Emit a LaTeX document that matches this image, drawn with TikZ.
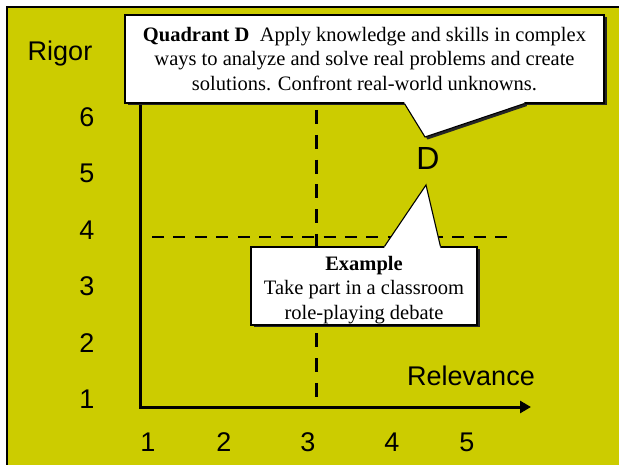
\documentclass[tikz,border=0pt]{standalone}
\usepackage{fontspec}
\setmainfont{Liberation Serif}
\setsansfont{Liberation Sans}
\usetikzlibrary{arrows.meta,positioning,shadows,calc}
\definecolor{rigyellow}{HTML}{CCCC00}

\begin{document}
\begin{tikzpicture}[x=1pt,y=-1pt,
  axlab/.style={font=\sffamily\fontsize{27}{30}\selectfont,inner sep=0pt},
  axisline/.style={line width=3pt,-{Triangle[length=11pt,width=12pt]}},
  divv/.style={line width=3pt,dash pattern=on 14pt off 10.8pt},
  divh/.style={line width=2pt,dash pattern=on 12pt off 9.44pt},
  boxshadow/.style={drop shadow={shadow xshift=2.5pt,shadow yshift=-2.5pt,
                    opacity=1,fill=black!85}},
  callbox/.style={draw=black,fill=white,line width=1.1pt,align=center,
                  font=\fontsize{20.5}{24.5}\selectfont,inner sep=0pt,boxshadow},
  ptrfill/.style={fill=white},
  ptrline/.style={draw=black,line width=1.1pt}]
  % page and frame
  \useasboundingbox (0,0) rectangle (619,465);
  \clip (0,0) rectangle (619,465);
  \fill[white] (0,0) rectangle (619,465);
  \fill[rigyellow] (7,7) rectangle (619,465);
  \draw[line width=2.5pt] (7,475) -- (7,7) -- (630,7);

  % axes and quadrant lines
  \coordinate (orig) at (140,407);
  \coordinate (ytop) at (140,100);
  \coordinate (xend) at (531,407);
  \coordinate (vtop) at (316,110);
  \coordinate (vbot) at (316,397);
  \coordinate (hl) at (152,237);
  \coordinate (hr) at (507,237);
  \draw[axisline] (ytop) -- (orig) -- (xend);
  \draw[divv] (vtop) -- (vbot);
  \draw[divh] (hl) -- (hr);

  \node[axlab] (rigor) at (60,54) {Rigor};
  \node[axlab] (rel) at (471,376) {Relevance};
  \foreach \n in {1,...,6}
     \node[axlab] (y\n) at (87,{455.4-56.4*\n}) {\n};
  \foreach \n/\x in {1/148,2/224,3/308,4/392,5/467}
     \node[axlab] (x\n) at (\x,442) {\n};
  \node[axlab,font=\sffamily\fontsize{32}{36}\selectfont] (dlab) at (428,158) {D};

  % callouts
  \node[callbox,minimum width=479pt,minimum height=88pt] (qtext) at (364.5,59)
     {\textbf{Quadrant D}\ \ Apply knowledge and skills in complex\\
      ways to analyze and solve real problems and create\\
      solutions. Confront real-world unknowns.};
  \coordinate (qtip) at (425,137);
  \fill[ptrfill,boxshadow] ([xshift=280pt,yshift=2pt]qtext.south west)
     -- ([xshift=280pt]qtext.south west) -- (qtip)
     -- ([xshift=400pt]qtext.south west)
     -- ([xshift=400pt,yshift=2pt]qtext.south west) -- cycle;
  \draw[ptrline] ([xshift=280pt]qtext.south west) -- (qtip)
     -- ([xshift=400pt]qtext.south west);

  \node[callbox,minimum width=226pt,minimum height=78pt] (extext) at (364,286)
     {\rule{0pt}{22pt}\textbf{Example}\\ Take part in a classroom\\ role-playing debate};
  \coordinate (etip) at (426,185);
  \fill[ptrfill] ([xshift=134pt,yshift=-2pt]extext.north west)
     -- ([xshift=134pt]extext.north west) -- (etip)
     -- ([xshift=190pt]extext.north west)
     -- ([xshift=190pt,yshift=-2pt]extext.north west) -- cycle;
  \draw[ptrline] ([xshift=134pt]extext.north west) -- (etip)
     -- ([xshift=190pt]extext.north west);
\end{tikzpicture}
\end{document}
